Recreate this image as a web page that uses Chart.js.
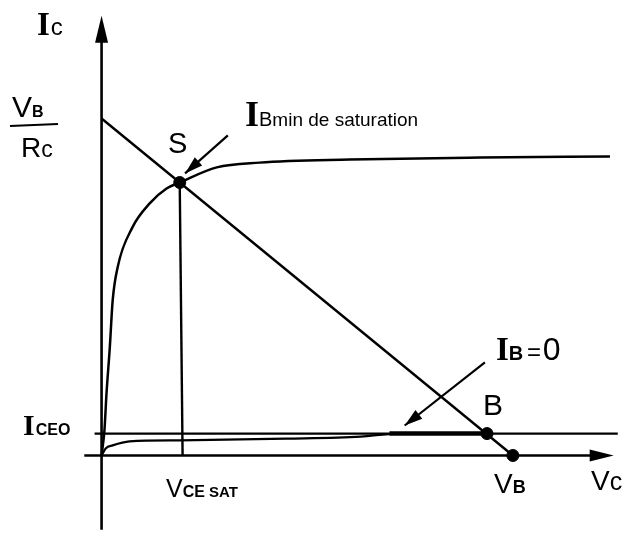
<!DOCTYPE html>
<html>
<head>
<meta charset="utf-8">
<script src="https://cdn.jsdelivr.net/npm/chart.js@4"></script>
<style>
  html, body { margin: 0; padding: 0; background: #fff; }
  #wrap { width: 639px; height: 547px; }
</style>
</head>
<body>
<div id="wrap"><canvas id="chart" width="639" height="547"></canvas></div>
<script>
// Vc in units where VB = 10, Ic in units where VB/Rc = 10
const loadLineX = [0, 10];
const loadLineY = [10, 0];

const satCurveX = [0, 0.07, 0.12, 0.2, 0.27, 0.39, 0.75, 1.17, 1.58, 1.90, 2.80, 3.84, 6.03, 9.2, 12.36];
const satCurveY = [0, 0.75, 1.84, 3.2, 4.6, 5.58, 6.77, 7.48, 7.92, 8.10, 8.55, 8.69, 8.78, 8.84, 8.87];

const cutoffCurveX = [0, 0.1, 0.27, 0.68, 1.9, 4.5, 6.3, 7.2, 9.37];
const cutoffCurveY = [0, 0.21, 0.30, 0.42, 0.45, 0.50, 0.56, 0.65, 0.65];

const iceo = 0.65;
const iceoLineX = [-0.17, 12.55];
const thickX = [7.0, 9.37];

const pointS = { x: 1.90, y: 8.10 };
const pointB = { x: 9.37, y: 0.65 };
const pointVB = { x: 10, y: 0 };
const vceSatX = [1.90, 1.97];

function pts(xs, ys) {
    return xs.map((x, i) => ({ x: x, y: ys[i] }));
}

function lineSet(data, width) {
    return {
        data: data, showLine: true, borderColor: '#000', borderWidth: width,
        pointRadius: 0, cubicInterpolationMode: 'monotone', fill: false
    };
}

// arrows pointing at the curves (tail -> tip, data units)
const arrows = [
    { from: [3.07, 9.5], to: [2.03, 8.37] },
    { from: [9.32, 2.76], to: [7.37, 0.89] }
];

function arrowHead(ctx, x1, y1, x2, y2, len, half) {
    const a = Math.atan2(y2 - y1, x2 - x1);
    ctx.beginPath();
    ctx.moveTo(x2, y2);
    ctx.lineTo(x2 - len * Math.cos(a) + half * Math.sin(a), y2 - len * Math.sin(a) - half * Math.cos(a));
    ctx.lineTo(x2 - len * Math.cos(a) - half * Math.sin(a), y2 - len * Math.sin(a) + half * Math.cos(a));
    ctx.closePath();
    ctx.fill();
}

function runs(ctx, x, y, parts) {
    parts.forEach(p => {
        ctx.font = p.f;
        ctx.fillText(p.t, x + (p.dx || 0), y + (p.dy || 0));
        x += ctx.measureText(p.t).width + (p.dx || 0);
    });
}

const SERIF = '"Liberation Serif", serif';
const SANS = '"Liberation Sans", sans-serif';

const decor = {
    id: 'decor',
    beforeDatasetsDraw(chart) {
        const ctx = chart.ctx;
        const sx = chart.scales.x, sy = chart.scales.y;
        const ox = sx.getPixelForValue(0), oy = sy.getPixelForValue(0);
        ctx.save();
        ctx.strokeStyle = '#000';
        ctx.fillStyle = '#000';
        ctx.lineWidth = 2.6;
        // y axis
        ctx.beginPath();
        ctx.moveTo(ox, sy.getPixelForValue(-2.2));
        ctx.lineTo(ox, sy.getPixelForValue(12.5));
        ctx.stroke();
        arrowHead(ctx, ox, 100, ox, sy.getPixelForValue(13.05), 27, 6.5);
        // x axis
        ctx.beginPath();
        ctx.moveTo(sx.getPixelForValue(-0.42), oy);
        ctx.lineTo(sx.getPixelForValue(12.2), oy);
        ctx.stroke();
        arrowHead(ctx, 400, oy, sx.getPixelForValue(12.45), oy, 24, 6);
        ctx.restore();
    },
    afterDraw(chart) {
        const ctx = chart.ctx;
        const sx = chart.scales.x, sy = chart.scales.y;
        ctx.save();
        ctx.strokeStyle = '#000';
        ctx.fillStyle = '#000';
        ctx.lineWidth = 2.2;
        arrows.forEach(a => {
            const x1 = sx.getPixelForValue(a.from[0]), y1 = sy.getPixelForValue(a.from[1]);
            const x2 = sx.getPixelForValue(a.to[0]), y2 = sy.getPixelForValue(a.to[1]);
            ctx.beginPath();
            ctx.moveTo(x1, y1);
            ctx.lineTo(x2, y2);
            ctx.stroke();
            arrowHead(ctx, x1, y1, x2, y2, 18, 5.5);
        });
        ctx.textBaseline = 'alphabetic';
        // Ic
        runs(ctx, 37, 35, [{ t: 'I', f: 'bold 33px ' + SERIF }, { t: 'c', f: '24px ' + SANS, dx: 1 }]);
        // VB / Rc
        runs(ctx, 12, 117, [{ t: 'V', f: '30px ' + SANS }, { t: 'B', f: 'bold 16px ' + SANS }]);
        ctx.lineWidth = 2;
        ctx.beginPath();
        ctx.moveTo(10, 126);
        ctx.lineTo(58, 124);
        ctx.stroke();
        runs(ctx, 21, 157, [{ t: 'R', f: '28px ' + SANS }, { t: 'c', f: '23px ' + SANS }]);
        // S
        ctx.font = '29px ' + SANS;
        ctx.fillText('S', 168, 153);
        // IBmin de saturation
        runs(ctx, 245, 126, [{ t: 'I', f: 'bold 36px ' + SERIF }, { t: 'B', f: '20px ' + SANS }, { t: 'min de saturation', f: '19px ' + SANS }]);
        // IB = 0
        runs(ctx, 496, 360, [{ t: 'I', f: 'bold 33px ' + SERIF }, { t: 'B', f: 'bold 20px ' + SANS }, { t: ' = ', f: '24px ' + SANS, dx: -3 }, { t: '0', f: '32px ' + SANS, dx: -5 }]);
        // B
        ctx.font = '30px ' + SANS;
        ctx.fillText('B', 483, 415);
        // ICEO
        runs(ctx, 23, 435, [{ t: 'I', f: 'bold 30px ' + SERIF }, { t: 'CEO', f: 'bold 16px ' + SANS, dx: 1 }]);
        // VCE SAT
        runs(ctx, 166, 497, [{ t: 'V', f: '25px ' + SANS }, { t: 'CE', f: 'bold 16px ' + SANS }, { t: ' SAT', f: 'bold 15px ' + SANS }]);
        // VB on axis
        runs(ctx, 494, 493, [{ t: 'V', f: '28px ' + SANS }, { t: 'B', f: 'bold 18px ' + SANS }]);
        // Vc
        runs(ctx, 591, 490, [{ t: 'V', f: '28px ' + SANS }, { t: 'c', f: '25px ' + SANS }]);
        ctx.restore();
    }
};

new Chart(document.getElementById('chart').getContext('2d'), {
    type: 'scatter',
    data: {
        datasets: [
            lineSet(pts(loadLineX, loadLineY), 2.4),
            lineSet(pts(satCurveX, satCurveY), 2.5),
            lineSet(pts(cutoffCurveX, cutoffCurveY), 2.3),
            lineSet(pts(iceoLineX, [iceo, iceo]), 2.2),
            lineSet(pts(thickX, [iceo, iceo]), 4.5),
            lineSet(pts(vceSatX, [pointS.y, 0]), 2.4),
            {
                data: [pointS, pointB, pointVB],
                backgroundColor: '#000', borderColor: '#000',
                pointRadius: 6, showLine: false
            }
        ]
    },
    options: {
        responsive: false,
        animation: false,
        layout: { padding: { left: 81, right: 13, top: 14, bottom: 14 } },
        plugins: { legend: { display: false }, tooltip: { enabled: false } },
        scales: {
            x: { type: 'linear', min: -0.5, max: 12.75, display: false },
            y: { type: 'linear', min: -2.3, max: 13.1, display: false }
        }
    },
    plugins: [decor]
});
</script>
</body>
</html>
